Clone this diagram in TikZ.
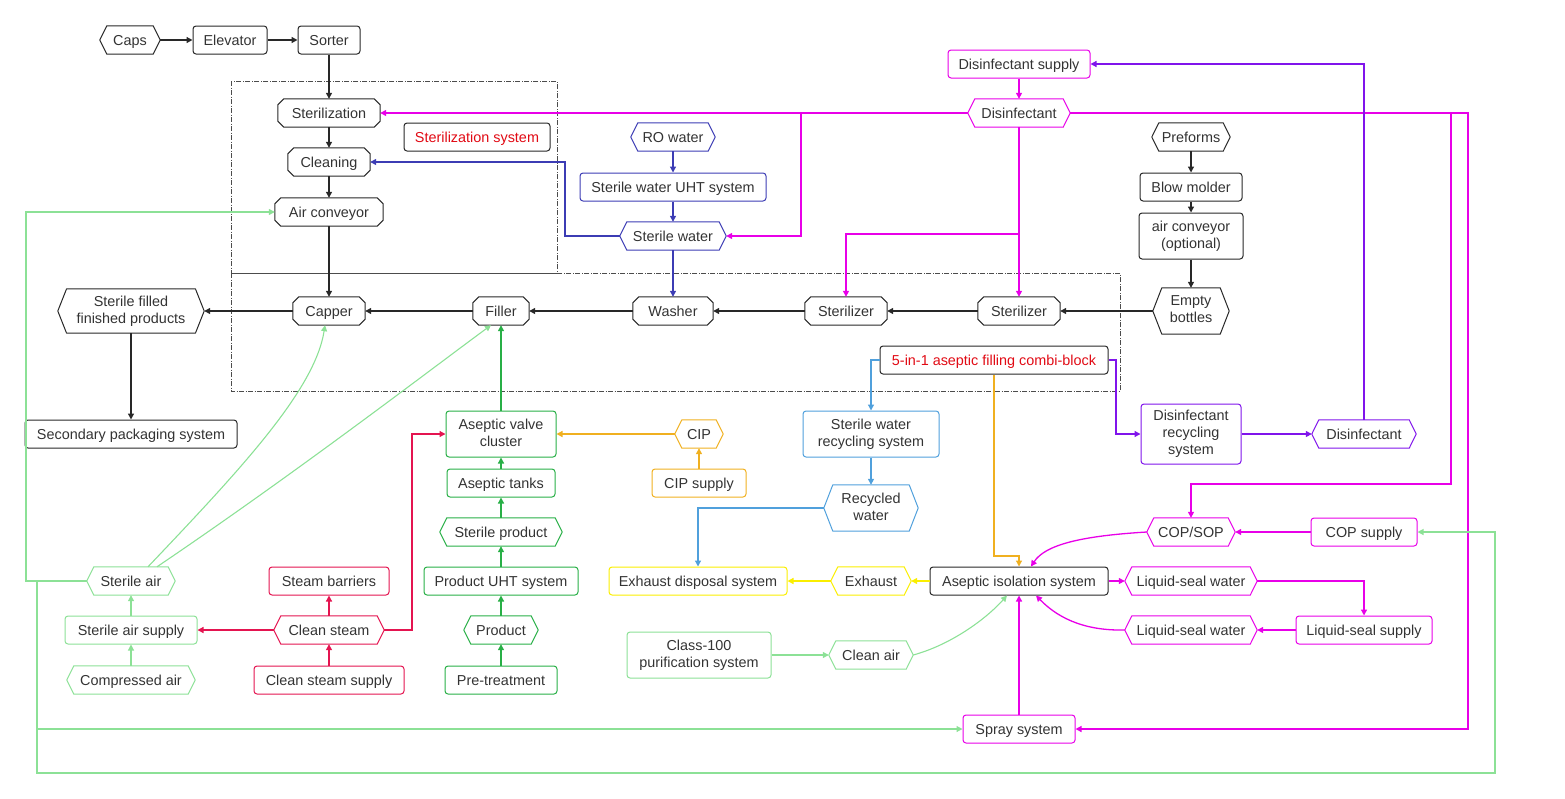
\documentclass[tikz,border=0pt]{standalone}
\usepackage{fontspec}
\setmainfont{Liberation Sans}
\usetikzlibrary{arrows.meta}
\definecolor{txt}{RGB}{51,51,51}
\definecolor{blk}{RGB}{40,40,40}
\definecolor{mag}{RGB}{232,0,232}
\definecolor{pur}{RGB}{128,20,235}
\definecolor{dblue}{RGB}{60,60,180}
\definecolor{lblue}{RGB}{80,160,220}
\definecolor{orng}{RGB}{240,176,32}
\definecolor{yel}{RGB}{250,238,0}
\definecolor{grn}{RGB}{40,175,70}
\definecolor{lgrn}{RGB}{140,225,150}
\definecolor{crim}{RGB}{228,20,80}
\definecolor{redtxt}{RGB}{225,10,20}
\newcommand\lblstrut{\rule[-3pt]{0pt}{16pt}}
\tikzset{
  lbl/.style={font=\fontsize{14.4}{17}\selectfont, text=txt, align=center, inner sep=2pt,
    execute at begin node=\lblstrut, execute at end node=\lblstrut},
  shp/.style={lbl, rectangle, draw=none},
  rbox/.style={lbl, rectangle, draw=#1, line width=1pt, rounded corners=3pt},
  outl/.style={draw=#1, line width=1pt, line join=round},
  conn/.style={draw=#1, line width=1.3pt, -{Triangle[length=6pt,width=6pt]}},
  lconn/.style={draw=lgrn, line width=1.1pt, -{Triangle[length=6pt,width=6pt]}},
  region/.style={draw=black!70, line width=0.7pt, dash pattern=on 5pt off 1.5pt on 1pt off 1.5pt}
}
% hexagon node: name, x, y, w, h, colour, text
\newcommand\HX[7]{%
  \node[shp, minimum width=#4pt, minimum height=#5pt] (#1) at (#2,#3) {#7};
  \pgfmathsetmacro\ins{7+(#5-28)/9}%
  \draw[outl=#6] ([xshift=\ins pt]#1.north west) -- ([xshift=-\ins pt]#1.north east) -- (#1.east)
    -- ([xshift=-\ins pt]#1.south east) -- ([xshift=\ins pt]#1.south west) -- (#1.west) -- cycle;}
% chamfered (octagon) node
\newcommand\OC[7]{%
  \node[shp, minimum width=#4pt, minimum height=#5pt] (#1) at (#2,#3) {#7};
  \draw[outl=#6] ([xshift=6pt]#1.north west) -- ([xshift=-6pt]#1.north east) -- ([yshift=-6pt]#1.north east)
    -- ([yshift=6pt]#1.south east) -- ([xshift=-6pt]#1.south east) -- ([xshift=6pt]#1.south west)
    -- ([yshift=6pt]#1.south west) -- ([yshift=-6pt]#1.north west) -- cycle;}
% rounded box
\newcommand\RB[7]{%
  \node[rbox=#6, minimum width=#4pt, minimum height=#5pt] (#1) at (#2,#3) {#7};}
\begin{document}
\begin{tikzpicture}[x=1pt,y=-1pt]
\useasboundingbox (0,0) rectangle (1565,798);
% regions
\draw[region] (231,81) rectangle (557,273);
\draw[region] (231,273) rectangle (1120,391);
% black nodes
\HX{caps}{130}{40}{60}{28}{blk}{Caps}
\RB{elev}{230}{40}{74}{28}{blk}{Elevator}
\RB{sorter}{329}{40}{62}{28}{blk}{Sorter}
\OC{steri}{329}{113}{102}{28}{blk}{Sterilization}
\OC{clean}{329}{162}{82}{28}{blk}{Cleaning}
\OC{airc}{329}{212}{108}{28}{blk}{Air conveyor}
\RB{sts}{477}{137}{146}{28}{blk}{\textcolor{redtxt}{Sterilization system}}
\HX{sffp}{131}{311}{146}{44}{blk}{Sterile filled\\finished products}
\OC{capper}{329}{311}{72}{28}{blk}{Capper}
\OC{filler}{501}{311}{56}{28}{blk}{Filler}
\OC{washer}{673}{311}{80}{28}{blk}{Washer}
\OC{ster1}{846}{311}{82}{28}{blk}{Sterilizer}
\OC{ster2}{1019}{311}{82}{28}{blk}{Sterilizer}
\HX{empty}{1191}{311}{76}{46}{blk}{Empty\\bottles}
\HX{pref}{1191}{137}{78}{28}{blk}{Preforms}
\RB{blow}{1191}{187}{102}{28}{blk}{Blow molder}
\RB{airopt}{1191}{236}{104}{46}{blk}{air conveyor\\(optional)}
\RB{combi}{994}{360}{228}{28}{blk}{\textcolor{redtxt}{5-in-1 aseptic filling combi-block}}
\RB{secp}{131}{434}{212}{28}{blk}{Secondary packaging system}
\RB{ais}{1019}{581}{178}{28}{blk}{Aseptic isolation system}
% magenta
\RB{dsup}{1019}{64}{142}{28}{mag}{Disinfectant supply}
\HX{dis}{1019}{113}{102}{28}{mag}{Disinfectant}
\HX{cop}{1191}{532}{88}{28}{mag}{COP/SOP}
\RB{copsup}{1364}{532}{106}{28}{mag}{COP supply}
\HX{lsw1}{1191}{581}{132}{28}{mag}{Liquid-seal water}
\HX{lsw2}{1191}{630}{132}{28}{mag}{Liquid-seal water}
\RB{lss}{1364}{630}{136}{28}{mag}{Liquid-seal supply}
\RB{spray}{1019}{729}{112}{28}{mag}{Spray system}
% purple
\RB{drs}{1191}{434}{100}{60}{pur}{Disinfectant\\recycling\\system}
\HX{disp}{1364}{434}{104}{28}{pur}{Disinfectant}
% blue
\HX{ro}{673}{137}{84}{28}{dblue}{RO water}
\RB{swuht}{673}{187}{186}{28}{dblue}{Sterile water UHT system}
\HX{sw}{673}{236}{106}{28}{dblue}{Sterile water}
% light blue
\RB{swrs}{871}{434}{136}{46}{lblue}{Sterile water\\recycling system}
\HX{rw}{871}{508}{94}{46}{lblue}{Recycled\\water}
% orange
\HX{cip}{699}{434}{48}{28}{orng}{CIP}
\RB{cipsup}{699}{483}{94}{28}{orng}{CIP supply}
% yellow
\RB{eds}{698}{581}{178}{28}{yel}{Exhaust disposal system}
\HX{exh}{871}{581}{80}{28}{yel}{Exhaust}
% green
\RB{avc}{501}{434}{110}{46}{grn}{Aseptic valve\\cluster}
\RB{tanks}{501}{483}{108}{28}{grn}{Aseptic tanks}
\HX{sprod}{501}{532}{122}{28}{grn}{Sterile product}
\RB{puht}{501}{581}{154}{28}{grn}{Product UHT system}
\HX{prod}{501}{630}{74}{28}{grn}{Product}
\RB{pre}{501}{680}{112}{28}{grn}{Pre-treatment}
% light green
\HX{sair}{131}{581}{88}{28}{lgrn}{Sterile air}
\RB{sasup}{131}{630}{132}{28}{lgrn}{Sterile air supply}
\HX{comp}{131}{680}{128}{28}{lgrn}{Compressed air}
\RB{c100}{699}{655}{144}{46}{lgrn}{Class-100\\purification system}
\HX{cair}{871}{655}{84}{28}{lgrn}{Clean air}
% red
\RB{sb}{329}{581}{120}{28}{crim}{Steam barriers}
\HX{cs}{329}{630}{110}{28}{crim}{Clean steam}
\RB{cssup}{329}{680}{150}{28}{crim}{Clean steam supply}

% junction coordinates
\coordinate (j1) at (801,113);
\coordinate (j2) at (1019,234);
\coordinate (j5) at (37,581);

% black connectors
\draw[conn=blk] (caps.east) -- (elev.west);
\draw[conn=blk] (elev.east) -- (sorter.west);
\draw[conn=blk] (sorter.south) -- (steri.north);
\draw[conn=blk] (steri.south) -- (clean.north);
\draw[conn=blk] (clean.south) -- (airc.north);
\draw[conn=blk] (airc.south) -- (capper.north);
\draw[conn=blk] (empty.west) -- (ster2.east);
\draw[conn=blk] (ster2.west) -- (ster1.east);
\draw[conn=blk] (ster1.west) -- (washer.east);
\draw[conn=blk] (washer.west) -- (filler.east);
\draw[conn=blk] (filler.west) -- (capper.east);
\draw[conn=blk] (capper.west) -- (sffp.east);
\draw[conn=blk] (sffp.south) -- (secp.north);
\draw[conn=blk] (pref.south) -- (blow.north);
\draw[conn=blk] (blow.south) -- (airopt.north);
\draw[conn=blk] (airopt.south) -- (empty.north);

% magenta connectors
\draw[conn=mag] (dsup.south) -- (dis.north);
\draw[conn=mag] (dis.west) -- (steri.east);
\draw[conn=mag] (j1) |- (sw.east);
\draw[conn=mag] (dis.south) -- (ster2.north);
\draw[conn=mag] (j2) -| (ster1.north);
\draw[conn=mag] (dis.east) -- (1451,113) -- (1451,484) -| (cop.north);
\draw[conn=mag] (1451,113) -- (1468,113) |- (spray.east);
\draw[conn=mag] (copsup.west) -- (cop.east);
\draw[conn=mag] (cop.west) .. controls (1080,536) and (1045,545) .. ([xshift=12pt]ais.north);
\draw[conn=mag] (ais.east) -- (lsw1.west);
\draw[conn=mag] (lsw1.east) -| (lss.north);
\draw[conn=mag] (lss.west) -- (lsw2.east);
\draw[conn=mag] (lsw2.west) .. controls (1080,631) and (1055,615) .. ([xshift=17pt]ais.south);
\draw[conn=mag] (spray.north) -- (ais.south);

% purple
\draw[conn=pur] (combi.east) -- (1116,360) |- (drs.west);
\draw[conn=pur] (drs.east) -- (disp.west);
\draw[conn=pur] (disp.north) |- (dsup.east);

% blue
\draw[conn=dblue] (ro.south) -- (swuht.north);
\draw[conn=dblue] (swuht.south) -- (sw.north);
\draw[conn=dblue] (sw.west) -- (565,236) |- (clean.east);
\draw[conn=dblue] (sw.south) -- (washer.north);

% light blue
\draw[conn=lblue] (combi.west) -| (swrs.north);
\draw[conn=lblue] (swrs.south) -- (rw.north);
\draw[conn=lblue] (rw.west) -| (eds.north);

% orange
\draw[conn=orng] (cipsup.north) -- (cip.south);
\draw[conn=orng] (cip.west) -- (avc.east);
\draw[conn=orng] (combi.south) -- (994,556) -| (ais.north);

% yellow
\draw[conn=yel] (ais.west) -- (exh.east);
\draw[conn=yel] (exh.west) -- (eds.east);

% green
\draw[conn=grn] (pre.north) -- (prod.south);
\draw[conn=grn] (prod.north) -- (puht.south);
\draw[conn=grn] (puht.north) -- (sprod.south);
\draw[conn=grn] (sprod.north) -- (tanks.south);
\draw[conn=grn] (tanks.north) -- (avc.south);
\draw[conn=grn] (avc.north) -- (filler.south);

% crimson
\draw[conn=crim] (cssup.north) -- (cs.south);
\draw[conn=crim] (cs.north) -- (sb.south);
\draw[conn=crim] (cs.west) -- (sasup.east);
\draw[conn=crim] (cs.east) -- (412,630) |- (avc.west);

% light green
\draw[lconn] (comp.north) -- (sasup.south);
\draw[lconn] (sasup.north) -- (sair.south);
\draw[lconn] (sair.west) -- (26,581) |- (airc.west);
\draw[lconn] (j5) |- (spray.west);
\draw[lconn] (j5) -- (37,773) -- (1495,773) |- (copsup.east);
\draw[lconn] ([xshift=17pt]sair.north) .. controls (240,470) and (315,390) .. ([xshift=-4pt]capper.south);
\draw[lconn] ([xshift=26pt]sair.north) .. controls (300,470) and (430,370) .. ([xshift=-10pt]filler.south);
\draw[lconn] (cair.east) .. controls (950,645) and (985,620) .. ([xshift=-12pt]ais.south);
\draw[lconn] (c100.east) -- (cair.west);
\end{tikzpicture}
\end{document}
